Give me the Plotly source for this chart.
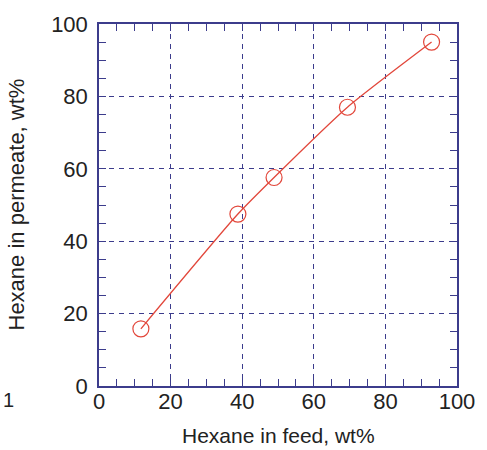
import plotly.graph_objects as go

# Hexane content of the feed and of the permeate, wt%
feed_hexane = [11.7, 38.8, 48.9, 69.4, 92.9]
permeate_hexane = [15.8, 47.5, 57.6, 77.0, 95.0]

x_ticks = [0, 20, 40, 60, 80, 100]
y_ticks = [0, 20, 40, 60, 80, 100]

AXIS = "#3c3c8c"
RED = "#e2473b"
FONT = "Liberation Sans, Arial, sans-serif"

fig = go.Figure()

fig.add_trace(go.Scatter(
    x=feed_hexane, y=permeate_hexane,
    mode="lines",
    line=dict(color=RED, width=1.3, shape="spline", smoothing=0.6),
    hoverinfo="skip", showlegend=False,
))
fig.add_trace(go.Scatter(
    x=feed_hexane, y=permeate_hexane,
    mode="markers",
    marker=dict(symbol="circle-open", size=16, color=RED, line=dict(width=1.2, color=RED)),
    showlegend=False,
))

axis_common = dict(
    range=[0, 100],
    showline=True, linecolor=AXIS, linewidth=1.5, mirror="allticks",
    ticks="inside", ticklen=7, tickwidth=1, tickcolor=AXIS,
    showgrid=True, gridcolor=AXIS, gridwidth=1, griddash="5px,5px",
    zeroline=False,
    tickfont=dict(family=FONT, size=22, color="#222222"),
    minor=dict(dtick=5, ticks="inside", ticklen=7, tickcolor=AXIS, tickwidth=1, showgrid=False),
)

fig.update_xaxes(tickvals=x_ticks, ticklabelstandoff=-5, **axis_common)
fig.update_yaxes(tickvals=y_ticks, ticklabelstandoff=5, **axis_common)

fig.update_layout(
    width=487, height=450,
    margin=dict(l=99, r=22, t=20, b=64),
    paper_bgcolor="white", plot_bgcolor="white",
    annotations=[
        dict(text="Hexane in feed, wt%", xref="paper", yref="paper",
             x=0.5, y=0, yshift=-49, xanchor="center", yanchor="middle",
             showarrow=False, font=dict(family=FONT, size=21, color="#222222")),
        dict(text="Hexane in permeate, wt%", xref="paper", yref="paper",
             x=0, y=0.5, xshift=-98, xanchor="left", yanchor="middle", textangle=-90,
             showarrow=False, font=dict(family=FONT, size=22, color="#222222")),
        dict(text="1", xref="paper", yref="paper",
             x=0, y=0, xshift=-98, yshift=-14, xanchor="left", yanchor="middle",
             showarrow=False, font=dict(family=FONT, size=20, color="#222222")),
    ],
)

fig.write_html("out.html")
